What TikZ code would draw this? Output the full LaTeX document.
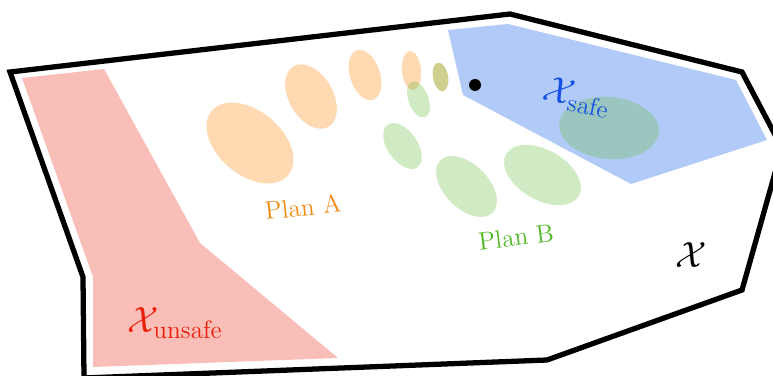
\documentclass[tikz,border=0pt]{standalone}
\usetikzlibrary{positioning}
\definecolor{planA}{RGB}{255,128,0}
\definecolor{planB}{RGB}{100,190,60}
\definecolor{safe}{RGB}{0,80,230}
\definecolor{unsafe}{RGB}{240,40,20}
\definecolor{labelA}{RGB}{240,140,20}
\definecolor{labelB}{RGB}{80,185,40}
\definecolor{labelsafe}{RGB}{20,80,230}
\definecolor{labelunsafe}{RGB}{235,30,10}

\tikzset{
  blobA/.style={fill=planA, fill opacity=0.3},
  blobB/.style={fill=planB, fill opacity=0.3},
  region/.style={fill opacity=0.3},
  setlabel/.style={font=\fontsize{22}{26}\selectfont},
}

\begin{document}
\begin{tikzpicture}[x=0.02cm, y=-0.02cm]
\useasboundingbox (0,0) rectangle (773,375);
\clip (0,0) rectangle (773,375);

% ---- 1. unsafe and safe sets ----
\fill[region, unsafe] (22,78) -- (104,69) -- (200,243) -- (338,358) -- (93,367) -- (93,277) -- cycle;
\fill[region, safe] (448,30) -- (508,24) -- (736,80) -- (767,140) -- (631,184) -- (463,95) -- cycle;

% ---- 2. state space ----
\draw[line width=3pt] (10,72) -- (510,14) -- (742,72) -- (782,148) -- (742,290)
  -- (547,360) -- (84,378) -- (83,277) -- cycle;

% ---- 3. Plan A (orange) ----
\foreach \cx/\cy/\ra/\rb/\ang in {250/143/50/32/-40, 311/96.5/35/22/-60, 365/75/26/15/-72,
    411.5/70.5/19.5/9.5/-85, 440.5/77/14.5/7.5/-80}{
  \fill[blobA, shift={(\cx,\cy)}, rotate=\ang] (0,0) ellipse [x radius=\ra, y radius=\rb];
}

% ---- 4. Plan B (green) ----
\foreach \cx/\cy/\ra/\rb/\ang in {440.5/77/14.5/7.5/-80, 418.5/99.5/19/10/-70, 402.5/146/26/15/-55,
    466.5/186.5/37/22/-45, 542.5/175/42/25/-30, 609/128/50/31/-5}{
  \fill[blobB, shift={(\cx,\cy)}, rotate=\ang] (0,0) ellipse [x radius=\ra, y radius=\rb];
}

\fill (475,85) circle (6);                                   % start state

% ---- labels ----
\node[text=labelA, rotate=6, font=\Large] (lblA) at (303,207) {Plan A};
\node[text=labelB, rotate=7, font=\Large] (lblB) at (516,237) {Plan B};
\node[text=labelunsafe, setlabel] (lblunsafe) at (175,323) {$\mathcal{X}_{\mathrm{unsafe}}$};
\node[text=labelsafe, rotate=-12, setlabel] (lblsafe) at (577,97) {$\mathcal{X}_{\mathrm{safe}}$};
\node[setlabel] (lblspace) at (691,255) {$\mathcal{X}$};
\end{tikzpicture}
\end{document}
